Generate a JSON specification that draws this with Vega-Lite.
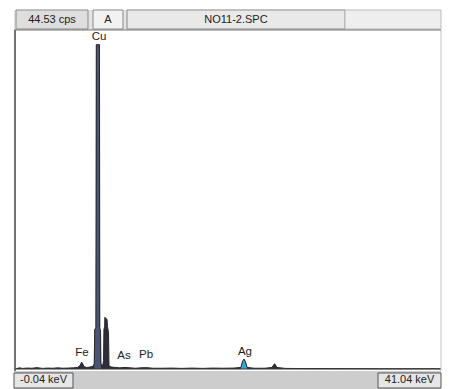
{
  "$schema": "https://vega.github.io/schema/vega-lite/v6.json",
  "width": 456,
  "height": 389,
  "autosize": {"type": "fit", "contains": "padding"},
  "padding": 0,
  "background": "#ffffff",
  "config": {"view": {"stroke": null}, "text": {"font": "Liberation Sans"}},
  "data": {"values": [{}]},
  "datasets": {
    "spectrum": [
      {"keV": 0.0, "cps": 0.05}, {"keV": 0.3, "cps": 0.15}, {"keV": 0.6, "cps": 0.08}, {"keV": 1.0, "cps": 0.12},
      {"keV": 1.5, "cps": 0.1}, {"keV": 2.0, "cps": 0.18}, {"keV": 2.5, "cps": 0.08}, {"keV": 3.0, "cps": 0.12},
      {"keV": 3.5, "cps": 0.1}, {"keV": 4.0, "cps": 0.15}, {"keV": 4.5, "cps": 0.1}, {"keV": 5.0, "cps": 0.12},
      {"keV": 5.5, "cps": 0.15}, {"keV": 5.9, "cps": 0.2}, {"keV": 6.15, "cps": 0.45}, {"keV": 6.3, "cps": 0.9},
      {"keV": 6.4, "cps": 0.7}, {"keV": 6.55, "cps": 0.3}, {"keV": 6.8, "cps": 0.2}, {"keV": 7.1, "cps": 0.25},
      {"keV": 7.4, "cps": 0.35}, {"keV": 7.52, "cps": 0.7}, {"keV": 7.57, "cps": 5.2}, {"keV": 7.68, "cps": 5.4},
      {"keV": 7.72, "cps": 42.6}, {"keV": 8.03, "cps": 42.6}, {"keV": 8.06, "cps": 5.4}, {"keV": 8.13, "cps": 5.0},
      {"keV": 8.17, "cps": 0.6}, {"keV": 8.35, "cps": 0.5}, {"keV": 8.42, "cps": 1.1}, {"keV": 8.46, "cps": 5.2},
      {"keV": 8.53, "cps": 5.6}, {"keV": 8.55, "cps": 6.8}, {"keV": 8.76, "cps": 6.5}, {"keV": 8.8, "cps": 5.6},
      {"keV": 8.9, "cps": 4.8}, {"keV": 8.95, "cps": 0.4}, {"keV": 9.2, "cps": 0.25}, {"keV": 9.6, "cps": 0.2},
      {"keV": 10.0, "cps": 0.15}, {"keV": 10.5, "cps": 0.2}, {"keV": 11.0, "cps": 0.15}, {"keV": 11.5, "cps": 0.1},
      {"keV": 12.0, "cps": 0.15}, {"keV": 12.6, "cps": 0.18}, {"keV": 13.2, "cps": 0.1}, {"keV": 14.0, "cps": 0.1},
      {"keV": 15.0, "cps": 0.12}, {"keV": 16.0, "cps": 0.08}, {"keV": 17.0, "cps": 0.12}, {"keV": 18.0, "cps": 0.08},
      {"keV": 19.0, "cps": 0.12}, {"keV": 20.0, "cps": 0.1}, {"keV": 21.0, "cps": 0.12}, {"keV": 21.7, "cps": 0.2},
      {"keV": 21.85, "cps": 1.0}, {"keV": 22.0, "cps": 1.3}, {"keV": 22.15, "cps": 0.9}, {"keV": 22.3, "cps": 0.2},
      {"keV": 23.0, "cps": 0.1}, {"keV": 24.0, "cps": 0.1}, {"keV": 24.7, "cps": 0.2}, {"keV": 24.95, "cps": 0.7},
      {"keV": 25.2, "cps": 0.2}, {"keV": 26.0, "cps": 0.08}, {"keV": 28.0, "cps": 0.05}, {"keV": 30.0, "cps": 0.05},
      {"keV": 35.0, "cps": 0.03}, {"keV": 41.04, "cps": 0.03}
    ],
    "labels": [
      {"element": "Fe", "keV": 6.34, "cps": 1.45},
      {"element": "Cu", "keV": 7.98, "cps": 42.9},
      {"element": "As", "keV": 10.4, "cps": 1.05},
      {"element": "Pb", "keV": 12.53, "cps": 1.15},
      {"element": "Ag", "keV": 22.09, "cps": 1.6}
    ]
  },
  "layer": [
    {
      "data": {"name": "spectrum"},
      "mark": {"type": "area", "color": "#2c2e3a", "opacity": 1},
      "encoding": {
        "x": {"field": "keV", "type": "quantitative", "axis": null, "scale": {"domain": [-1.587, 42.49], "nice": false, "zero": false}},
        "y": {"field": "cps", "type": "quantitative", "axis": null, "scale": {"domain": [-2.627, 48.47], "nice": false, "zero": false}}
      }
    },
    {
      "data": {"name": "spectrum"},
      "transform": [{"filter": "datum.keV >= 7.52 && datum.keV <= 8.17"}],
      "mark": {"type": "area", "color": "#4a5474"},
      "encoding": {"x": {"field": "keV", "type": "quantitative"}, "y": {"field": "cps", "type": "quantitative"}}
    },
    {
      "data": {"name": "spectrum"},
      "transform": [{"filter": "datum.keV >= 21.7 && datum.keV <= 22.3"}],
      "mark": {"type": "area", "color": "#3aa6d8"},
      "encoding": {"x": {"field": "keV", "type": "quantitative"}, "y": {"field": "cps", "type": "quantitative"}}
    },
    {
      "data": {"name": "spectrum"},
      "mark": {"type": "line", "color": "#262626", "strokeWidth": 1},
      "encoding": {"x": {"field": "keV", "type": "quantitative"}, "y": {"field": "cps", "type": "quantitative"}}
    },
    {
      "mark": {"type": "rule", "color": "#3a3a3a", "strokeWidth": 1.2},
      "encoding": {"x": {"datum": -0.137}, "x2": {"datum": 41.04}, "y": {"datum": 0}}
    },
    {
      "mark": {"type": "rule", "color": "#444444", "strokeWidth": 1.5},
      "encoding": {"x": {"datum": -0.137}, "y": {"datum": -0.263}, "y2": {"datum": 44.53}}
    },
    {
      "mark": {"type": "rule", "color": "#c4c4c4", "strokeWidth": 1},
      "encoding": {"x": {"datum": 41.04}, "y": {"datum": -0.263}, "y2": {"datum": 44.53}}
    },
    {
      "mark": {"type": "rect", "color": "#e4e4e4"},
      "encoding": {"x": {"datum": -0.233}, "x2": {"datum": 41.04}, "y": {"datum": 44.53}, "y2": {"datum": 47.16}}
    },
    {
      "mark": {"type": "rect", "fill": "#dedede", "stroke": "#8a8a8a", "strokeWidth": 1},
      "encoding": {"x": {"datum": -0.04}, "x2": {"datum": 6.919}, "y": {"datum": 44.66}, "y2": {"datum": 47.16}}
    },
    {
      "mark": {"type": "rect", "fill": "#f2f2f2", "stroke": "#8a8a8a", "strokeWidth": 1},
      "encoding": {"x": {"datum": 7.402}, "x2": {"datum": 10.302}, "y": {"datum": 44.66}, "y2": {"datum": 47.16}}
    },
    {
      "mark": {"type": "rect", "fill": "#e9e9e9", "stroke": "#8a8a8a", "strokeWidth": 1},
      "encoding": {"x": {"datum": 10.689}, "x2": {"datum": 31.76}, "y": {"datum": 44.66}, "y2": {"datum": 47.16}}
    },
    {
      "mark": {"type": "rect", "fill": "#eeeeee", "stroke": "#bdbdbd", "strokeWidth": 1},
      "encoding": {"x": {"datum": 31.76}, "x2": {"datum": 41.04}, "y": {"datum": 44.66}, "y2": {"datum": 47.16}}
    },
    {
      "mark": {"type": "rule", "color": "#777777", "strokeWidth": 1.2},
      "encoding": {"x": {"datum": -0.233}, "x2": {"datum": 41.04}, "y": {"datum": 44.53}}
    },
    {
      "mark": {"type": "text", "fontSize": 11, "color": "#222222", "baseline": "middle"},
      "encoding": {"x": {"datum": 3.44}, "y": {"datum": 45.9}, "text": {"value": "44.53 cps"}}
    },
    {
      "mark": {"type": "text", "fontSize": 11, "color": "#222222", "baseline": "middle"},
      "encoding": {"x": {"datum": 8.85}, "y": {"datum": 45.9}, "text": {"value": "A"}}
    },
    {
      "mark": {"type": "text", "fontSize": 11, "color": "#222222", "baseline": "middle"},
      "encoding": {"x": {"datum": 21.22}, "y": {"datum": 45.9}, "text": {"value": "NO11-2.SPC"}}
    },
    {
      "mark": {"type": "rect", "color": "#cdcdcd"},
      "encoding": {"x": {"datum": -0.233}, "x2": {"datum": 41.04}, "y": {"datum": -2.627}, "y2": {"datum": -0.263}}
    },
    {
      "mark": {"type": "rect", "fill": "#e6e6e6", "stroke": "#555555", "strokeWidth": 1},
      "encoding": {"x": {"datum": -0.233}, "x2": {"datum": 5.47}, "y": {"datum": -2.496}, "y2": {"datum": -0.525}}
    },
    {
      "mark": {"type": "rect", "fill": "#e6e6e6", "stroke": "#555555", "strokeWidth": 1},
      "encoding": {"x": {"datum": 34.95}, "x2": {"datum": 41.04}, "y": {"datum": -2.496}, "y2": {"datum": -0.525}}
    },
    {
      "mark": {"type": "text", "fontSize": 11, "color": "#222222", "baseline": "middle"},
      "encoding": {"x": {"datum": 2.62}, "y": {"datum": -1.51}, "text": {"value": "-0.04 keV"}}
    },
    {
      "mark": {"type": "text", "fontSize": 11, "color": "#222222", "baseline": "middle"},
      "encoding": {"x": {"datum": 38.0}, "y": {"datum": -1.51}, "text": {"value": "41.04 keV"}}
    },
    {
      "data": {"name": "labels"},
      "mark": {"type": "text", "fontSize": 11.5, "color": "#222222", "baseline": "bottom"},
      "encoding": {
        "x": {"field": "keV", "type": "quantitative"},
        "y": {"field": "cps", "type": "quantitative"},
        "text": {"field": "element"}
      }
    }
  ]
}
